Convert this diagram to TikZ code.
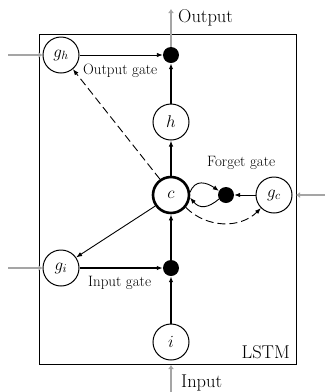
\RequirePackage{fix-cm}
\documentclass[tikz,border=0pt]{standalone}
\usetikzlibrary{arrows.meta}
\tikzset{
  unit/.style={draw, circle, minimum size=36pt, inner sep=0pt, line width=1pt, font=\fontsize{17}{20}\selectfont},
  bigunit/.style={unit, line width=2.6pt},
  gatedot/.style={fill=black, circle, minimum size=16pt, inner sep=0pt},
  arr/.style={-{Latex[length=6pt,width=4.5pt]}, line width=0.9pt},
  thickarr/.style={-{Latex[length=6pt,width=4.5pt]}, line width=1.6pt},
  grayarr/.style={-{Latex[length=4pt,width=6pt]}, line width=2.6pt, draw={rgb,255:red,165;green,165;blue,165}},
  smalllbl/.style={font=\fontsize{15}{18}\selectfont, inner sep=0pt},
  biglbl/.style={font=\fontsize{18.5}{22}\selectfont, inner sep=0pt},
  dashedarr/.style={arr, dash pattern=on 8pt off 4pt}
}
\begin{document}
\begin{tikzpicture}[x=1pt,y=-1pt]
\useasboundingbox (0,0) rectangle (325,392);
\draw[line width=1pt] (39,34) rectangle (296,364);

\node[unit] (gh) at (61,55) {$g_h$};
\node[gatedot] (od) at (171,55) {};
\node[unit] (h) at (171,122) {$h$};
\node[bigunit] (c) at (171,195) {$c$};
\node[gatedot] (fd) at (226,195) {};
\node[unit] (gc) at (274,195) {$g_c$};
\node[unit] (gi) at (61,268) {$g_i$};
\node[gatedot] (id) at (171,268) {};
\node[unit] (i) at (171,342) {$i$};

\coordinate (outTop) at (171,9);
\coordinate (inBot) at (171,392);
\coordinate (inTop) at (171,365);
\coordinate (ghL) at (8,55);
\coordinate (giL) at (8,268);
\coordinate (gcR) at (325,195);
\coordinate (gcB) at (296,195);

% gray external arrows
\draw[grayarr] (od) -- (outTop);
\draw[grayarr] (inBot) -- (inTop);
\draw[grayarr] (ghL) -- (gh.west);
\draw[grayarr] (giL) -- (gi.west);
\draw[grayarr] (gcR) -- (gcB);

% labels
\node[biglbl, anchor=base west] (outlbl) at (178,22) {Output};
\node[biglbl, anchor=base west] (inlbl) at (181,387) {Input};
\node[biglbl, anchor=base east] (lstm) at (290,358) {LSTM};
\node[smalllbl, anchor=base west] (ogl) at (83,74) {Output gate};
\node[smalllbl, anchor=base west] (fgl) at (207,166) {Forget gate};
\node[smalllbl, anchor=base west] (igl) at (88,286) {Input gate};

% internal connectors
\draw[arr] (gh) -- (od);
\draw[thickarr] (h) -- (od);
\draw[thickarr] (c) -- (h);
\draw[dashedarr] (c.125) -- (gh.-50);
\draw[arr] (c.215) -- (gi.35);
\draw[thickarr] (gi) -- (id);
\draw[thickarr] (i) -- (id);
\draw[thickarr] (id) -- (c);
\draw[arr] (gc) -- (fd);
\draw[arr] (c.8) to[out=70,in=145,looseness=1.3] (fd.150);
\draw[arr] (fd.210) to[out=220,in=-50,looseness=1.3] (c.-8);
\draw[dashedarr] (c.-40) to[out=-45,in=225] (gc.225);
\end{tikzpicture}
\end{document}
